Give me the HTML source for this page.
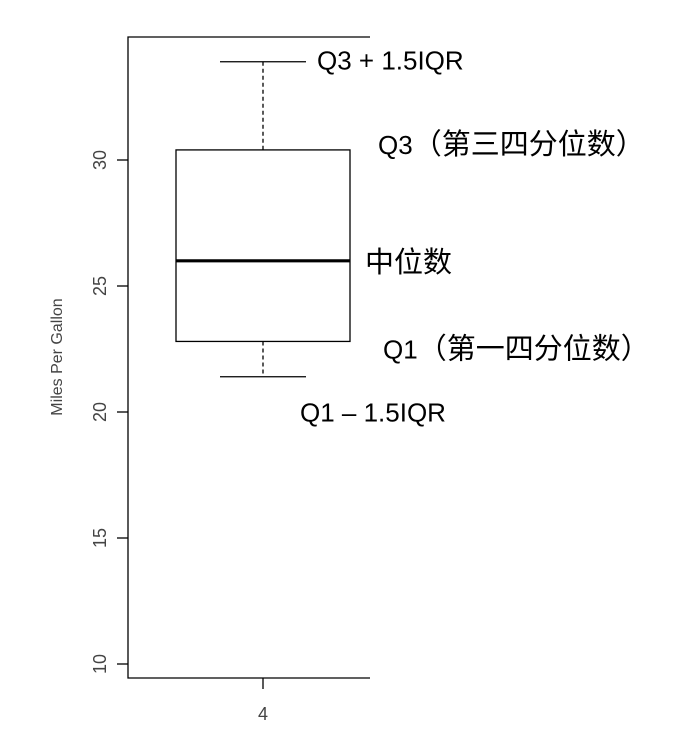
<!DOCTYPE html>
<html><head><meta charset="utf-8"><style>
html,body{margin:0;padding:0;background:#fff;width:686px;height:744px;overflow:hidden}
svg{display:block}
.tk{font-family:"Liberation Sans",sans-serif;font-size:18px;fill:#444}
.tt{font-family:"Liberation Sans",sans-serif;font-size:16px;fill:#444}
.an{font-family:"Liberation Sans","Noto Sans CJK SC",sans-serif;font-size:26px;fill:#000}
.cj{font-size:29px}
</style></head><body>
<svg id="chart" width="686" height="744" viewBox="0 0 686 744">
<g id="frame"></g>
<g id="axes"></g>
<g id="box"></g>
<g id="ann"></g>
</svg>
<script>
const yTicks = [10, 15, 20, 25, 30];
const category = "4";
const whiskerLow = [21.4];
const q1 = [22.8];
const median = [26.0];
const q3 = [30.4];
const whiskerHigh = [33.9];
const labels = [["Q3 + 1.5IQR",""], ["Q3","（第三四分位数）"], ["","中位数"], ["Q1","（第一四分位数）"], ["Q1 – 1.5IQR",""]];

const NS = "http://www.w3.org/2000/svg";
function y(v){ return 664 - (v - 10) * 25.2; }
const cx = 263, boxL = 176, boxR = 350, capL = 220, capR = 306;
function mk(parent, tag, attrs){ const e=document.createElementNS(NS,tag); for(const k in attrs) e.setAttribute(k,attrs[k]); parent.appendChild(e); return e; }
const frame=document.getElementById('frame'), axes=document.getElementById('axes'), box=document.getElementById('box'), ann=document.getElementById('ann');
const ln={stroke:'#000','stroke-width':1.3,fill:'none'};
let f = mk(frame,'path',Object.assign({d:'M370 37 H128 V678 H370'},ln));


yTicks.forEach(v=>{
  const t=mk(axes,'line',Object.assign({x1:117,x2:128,y1:y(v),y2:y(v)},ln));
  
  
  const tx=mk(axes,'text',{class:'tk','text-anchor':'middle',transform:`translate(106 ${y(v)}) rotate(-90)`});
  tx.textContent=v;
  
  
});
const yt=mk(axes,'text',{class:'tt','text-anchor':'middle',transform:'translate(62 357) rotate(-90)'});
yt.textContent='Miles Per Gallon';


const xt=mk(axes,'line',Object.assign({x1:cx,x2:cx,y1:678,y2:689},ln));


const xl=mk(axes,'text',{class:'tk','text-anchor':'middle',x:cx,y:720});
xl.textContent=category;


let e;
e=mk(box,'line',Object.assign({x1:cx,x2:cx,y1:y(whiskerHigh[0]),y2:y(q3[0]),'stroke-dasharray':'4 3'},ln));


e=mk(box,'line',Object.assign({x1:cx,x2:cx,y1:y(q1[0]),y2:y(whiskerLow[0]),'stroke-dasharray':'4 3'},ln));


e=mk(box,'line',Object.assign({x1:capL,x2:capR,y1:y(whiskerHigh[0]),y2:y(whiskerHigh[0])},ln));


e=mk(box,'line',Object.assign({x1:capL,x2:capR,y1:y(whiskerLow[0]),y2:y(whiskerLow[0])},ln));


e=mk(box,'rect',Object.assign({x:boxL,y:y(q3[0]),width:boxR-boxL,height:y(q1[0])-y(q3[0])},ln));


e=mk(box,'line',{x1:boxL,x2:boxR,y1:y(median[0]),y2:y(median[0]),stroke:'#000','stroke-width':3.2});


const annPos=[[317,y(whiskerHigh[0])+8],[378,y(q3[0])+4],[365,y(median[0])+11],[383,y(q1[0])+17],[300,y(whiskerLow[0])+45]];
const annNames=['upper-whisker-label','q3-label','median-label','q1-label','lower-whisker-label'];
labels.forEach((s,i)=>{
  const t=mk(ann,'text',{class:'an',x:annPos[i][0],y:annPos[i][1]});
  
  
  if(s[0]){ const a=mk(t,'tspan',{}); a.textContent=s[0]; }
  if(s[1]){ const b=mk(t,'tspan',{class:'cj'}); b.textContent=s[1]; }
});
</script>
</body></html>
